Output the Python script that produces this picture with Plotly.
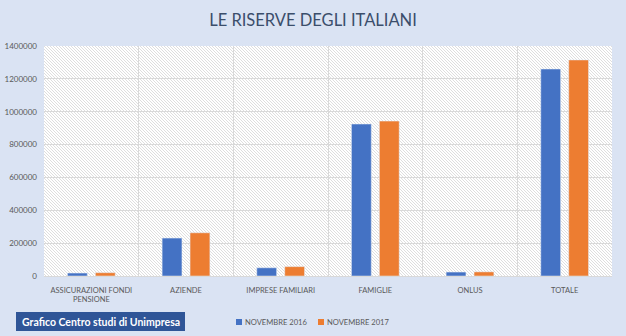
import base64
import plotly.graph_objects as go

categories = ["ASSICURAZIONI FONDI<br>PENSIONE", "AZIENDE", "IMPRESE FAMILIARI",
              "FAMIGLIE", "ONLUS", "TOTALE"]
nov_2016 = [18000, 231000, 50000, 925000, 24000, 1260000]
nov_2017 = [20000, 263000, 57000, 943000, 25000, 1315000]
series_names = ["NOVEMBRE 2016", "NOVEMBRE 2017"]
y_ticks = [0, 200000, 400000, 600000, 800000, 1000000, 1200000, 1400000]

W, H = 626, 336
ML, MR, MT, MB = 44, 14, 46, 60
PW, PH = W - ML - MR, H - MT - MB

BLUE, ORANGE = "#4472C4", "#ED7D31"
BG = "#DAE3F3"
FONT = "Lato, 'Open Sans', sans-serif"

# hatched plot-area background as inline svg
svg = (
    f'<svg xmlns="http://www.w3.org/2000/svg" width="{PW}" height="{PH}">'
    '<defs><pattern id="p" width="3" height="3" patternUnits="userSpaceOnUse">'
    '<path d="M-1,-1 L4,4 M-1,2 L1,4 M2,-1 L4,1" stroke="#cccccc" stroke-width="0.65"/>'
    '</pattern></defs>'
    f'<rect width="{PW}" height="{PH}" fill="#ffffff"/>'
    f'<rect width="{PW}" height="{PH}" fill="url(#p)"/>'
    '</svg>'
)
svg_uri = "data:image/svg+xml;base64," + base64.b64encode(svg.encode()).decode()

fig = go.Figure()
fig.add_bar(x=categories, y=nov_2016, name=series_names[0], marker_color=BLUE,
            showlegend=False)
fig.add_bar(x=categories, y=nov_2017, name=series_names[1], marker_color=ORANGE,
            showlegend=False)

def px_x(p):
    return (p - ML) / PW

def px_y(p):
    return (MT + PH - p) / PH

shapes = [
    dict(type="rect", xref="paper", yref="paper", x0=px_x(16), x1=px_x(185),
         y0=px_y(331), y1=px_y(312), fillcolor="#2F5597", line_width=0, layer="above"),
    dict(type="rect", xref="paper", yref="paper", x0=px_x(236), x1=px_x(242),
         y0=px_y(325), y1=px_y(319), fillcolor=BLUE, line_width=0),
    dict(type="rect", xref="paper", yref="paper", x0=px_x(318), x1=px_x(324),
         y0=px_y(325), y1=px_y(319), fillcolor=ORANGE, line_width=0),
]

annotations = [
    dict(text="<b>Grafico Centro studi di Unimpresa</b>", xref="paper", yref="paper",
         x=px_x(100.5), y=px_y(321.5), xanchor="center", yanchor="middle",
         showarrow=False, font=dict(family=FONT, size=10.5, color="white")),
    dict(text=series_names[0], xref="paper", yref="paper", x=px_x(243), y=px_y(322),
         xanchor="left", yanchor="middle", showarrow=False,
         font=dict(family=FONT, size=7.6, color="#595959")),
    dict(text=series_names[1], xref="paper", yref="paper", x=px_x(325), y=px_y(322),
         xanchor="left", yanchor="middle", showarrow=False,
         font=dict(family=FONT, size=7.6, color="#595959")),
]

fig.update_layout(
    width=W, height=H,
    margin=dict(l=ML, r=MR, t=MT, b=MB, pad=0),
    paper_bgcolor=BG, plot_bgcolor="white",
    title=dict(text="LE RISERVE DEGLI ITALIANI", x=0.5, xanchor="center",
               y=1 - 20 / H, yanchor="middle",
               font=dict(family=FONT, size=16.5, color="#3B4E6B")),
    barmode="group", bargap=0.41, bargroupgap=0.29,
    font=dict(family=FONT, color="#595959"),
    images=[dict(source=svg_uri, xref="paper", yref="paper", x=0, y=1,
                 sizex=1, sizey=1, xanchor="left", yanchor="top",
                 sizing="stretch", layer="below")],
    shapes=shapes,
    annotations=annotations,
)
fig.update_xaxes(type="category", tickson="boundaries", showgrid=True,
                 gridcolor="#d9d9d9", gridwidth=1, ticks="", showline=False,
                 tickangle=0, automargin=False,
                 tickfont=dict(family=FONT, size=7.5, color="#595959"),
                 ticklabelstandoff=8)
fig.update_yaxes(range=[0, 1400000], tickvals=y_ticks, tickformat="d",
                 showgrid=True, gridcolor="#d9d9d9", gridwidth=1,
                 zeroline=True, zerolinecolor="#d9d9d9", zerolinewidth=1,
                 showline=False, ticks="", automargin=False,
                 tickfont=dict(family=FONT, size=8, color="#595959"),
                 ticklabelstandoff=6)

fig.write_html("out.html")
